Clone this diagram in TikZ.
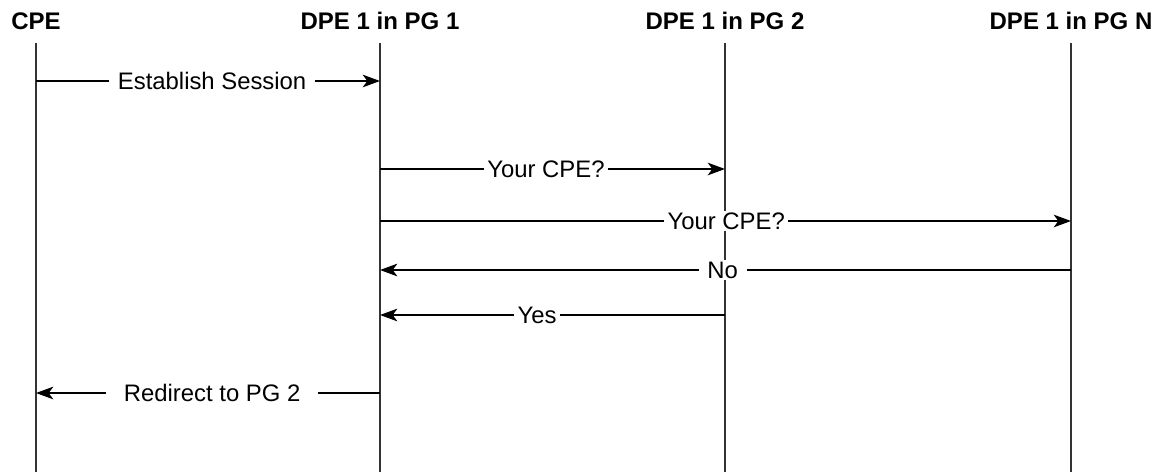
\documentclass[tikz,border=0pt]{standalone}
\usepackage{fontspec}
\setmainfont{Liberation Sans}
\usetikzlibrary{arrows.meta}

\tikzset{every picture/.style={line width=0.75pt}}
\tikzset{
  head/.style={font=\fontsize{18}{21}\selectfont\bfseries, inner sep=0pt, text height=12.9pt, text depth=0pt},
  life/.style={line width=0.9pt, black!80},
  msg/.style={line width=0.9pt, -{Stealth[length=13pt, width=9.5pt, inset=3.5pt]}},
  lbl/.style={font=\fontsize{17.9}{21}\selectfont, fill=white, inner ysep=1pt, text height=12.8pt, text depth=0pt}
}

\begin{document}
\begin{tikzpicture}[x=0.75pt,y=0.75pt,yscale=-1,xscale=1]
\useasboundingbox (0,0) rectangle (1166,472);

% participants
\node [head] (cpe) at (36,21) {CPE};
\node [head] (pg1) at (380,21) {DPE 1 in PG 1};
\node [head] (pg2) at (725,21) {DPE 1 in PG 2};
\node [head] (pgn) at (1071,21) {DPE 1 in PG N};

% lifelines
\draw [life] (cpe |- 0,43) -- (cpe |- 0,472) ;
\draw [life] (pg1 |- 0,43) -- (pg1 |- 0,472) ;
\draw [life] (pg2 |- 0,43) -- (pg2 |- 0,472) ;
\draw [life] (pgn |- 0,43) -- (pgn |- 0,472) ;

% messages
\draw [msg] (cpe |- 0,81) -- (pg1 |- 0,81) node [lbl, pos=0.512, inner xsep=6.5pt] (m1) {Establish Session};
\draw [msg] (pg1 |- 0,169) -- (pg2 |- 0,169) node [lbl, pos=0.481, inner xsep=2.5pt] (m2) {Your CPE?};
\draw [msg] (pg1 |- 0,221) -- (pgn |- 0,221) node [lbl, pos=0.501, inner xsep=2.5pt] (m3) {Your CPE?};
\draw [msg] (pgn |- 0,270) -- (pg1 |- 0,270) node [lbl, pos=0.504, inner xsep=6.5pt] (m4) {No};
\draw [msg] (pg2 |- 0,315) -- (pg1 |- 0,315) node [lbl, pos=0.545, inner xsep=3pt] (m5) {Yes};
\draw [msg] (pg1 |- 0,393) -- (cpe |- 0,393) node [lbl, pos=0.488, inner xsep=13.5pt] (m6) {Redirect to PG 2};

\end{tikzpicture}
\end{document}
